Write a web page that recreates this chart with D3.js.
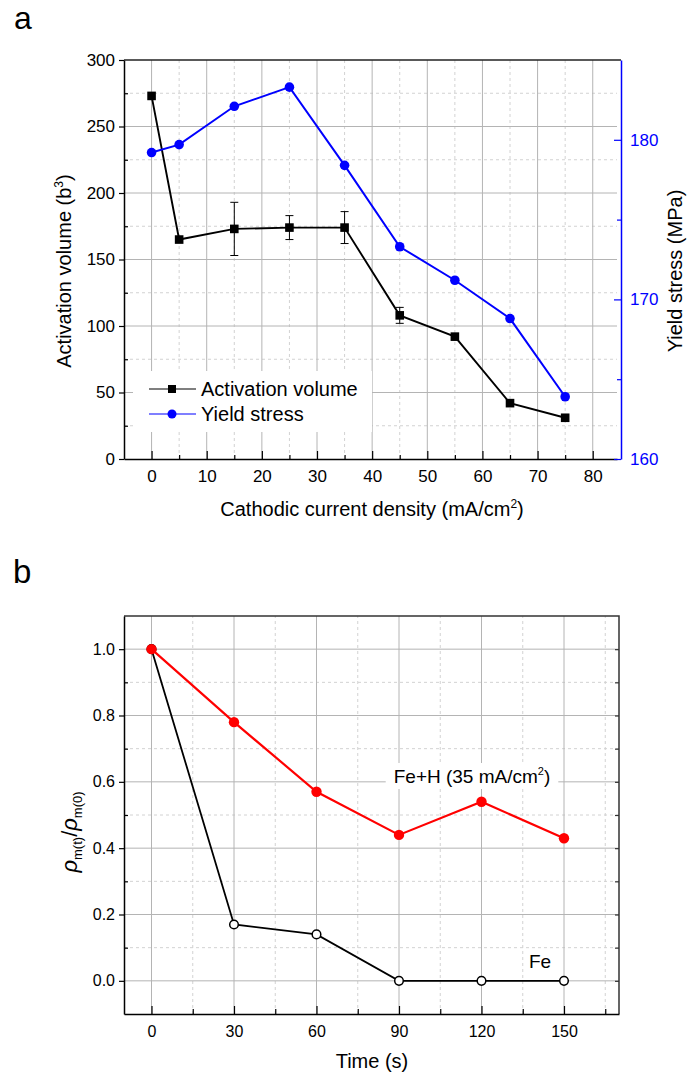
<!DOCTYPE html>
<html lang="en">
<head>
<meta charset="utf-8">
<title>activation volume and dislocation density</title>
<script src="https://cdn.jsdelivr.net/npm/d3@7"></script>
<style>
  body { margin: 0; background: #fff; }
  text { font-family: "Liberation Sans", Arial, sans-serif; }
</style>
</head>
<body>
<script>
// panel a data
var currentDensity = [0, 5, 15, 25, 35, 45, 55, 65, 75];
var activationVolume = [273, 165, 173, 174, 174, 108, 92, 42, 31];
var activationErr = [0, 0, 20, 9, 12, 6, 0, 0, 0];
var yieldStress = [179.2, 179.7, 182.1, 183.3, 178.4, 173.3, 171.2, 168.8, 163.9];

// panel b data
var timeS = [0, 30, 60, 90, 120, 150];
var ratioFeH = [1.0, 0.78, 0.57, 0.44, 0.54, 0.43];
var ratioFe = [1.0, 0.17, 0.14, 0, 0, 0];

// tick values
var xTicksA = [0, 10, 20, 30, 40, 50, 60, 70, 80];
var xMinorA = [5, 15, 25, 35, 45, 55, 65, 75];
var yTicksA = [0, 50, 100, 150, 200, 250, 300];
var yMinorA = [25, 75, 125, 175, 225, 275];
var yTicksRight = [160, 170, 180];
var yMinorRight = [165, 175];
var xTicksB = [0, 30, 60, 90, 120, 150];
var xMinorB = [15, 45, 75, 105, 135, 165];
var yTicksB = [0, 0.2, 0.4, 0.6, 0.8, 1.0];
var yMinorB = [0.1, 0.3, 0.5, 0.7, 0.9];

var w = 688, h = 1078;
var svg = d3.select("body").append("svg").attr("width", w).attr("height", h);

var majorGrid = "#b4b4b4", minorGrid = "#d2d2d2";

function drawGrid(g, x, y, xMaj, xMin, yMaj, yMin) {
  var x0 = x.range()[0], x1 = x.range()[1], y0 = y.range()[0], y1 = y.range()[1];
  g.selectAll(".vmin").data(xMin).enter().append("line")
    .attr("x1", x).attr("x2", x).attr("y1", y0).attr("y2", y1)
    .attr("stroke", minorGrid).attr("stroke-dasharray", "3,3");
  g.selectAll(".hmin").data(yMin).enter().append("line")
    .attr("y1", y).attr("y2", y).attr("x1", x0).attr("x2", x1)
    .attr("stroke", minorGrid).attr("stroke-dasharray", "3,3");
  g.selectAll(".vmaj").data(xMaj).enter().append("line")
    .attr("x1", x).attr("x2", x).attr("y1", y0).attr("y2", y1)
    .attr("stroke", majorGrid);
  g.selectAll(".hmaj").data(yMaj).enter().append("line")
    .attr("y1", y).attr("y2", y).attr("x1", x0).attr("x2", x1)
    .attr("stroke", majorGrid);
}

function styleAxis(g, color, size) {
  g.selectAll("path").attr("stroke", color).attr("stroke-width", 1.5);
  g.selectAll("line").attr("stroke", color).attr("stroke-width", 1.2);
  g.selectAll("text").attr("fill", color).style("font-size", size + "px")
    .style("font-family", "'Liberation Sans', Arial, sans-serif");
}

// ---------- panel a ----------
var xA = d3.scaleLinear().domain([-5, 84.4]).range([124, 617]);
var yA = d3.scaleLinear().domain([0, 300]).range([459, 60]);
var yR = d3.scaleLinear().domain([160, 185]).range([459, 60]);

svg.append("text").attr("x", 14).attr("y", 29).text("a").style("font-size", "32px");

var gA = svg.append("g");
drawGrid(gA, xA, yA, xTicksA, xMinorA, [50, 100, 150, 200, 250], yMinorA);

// top border
gA.append("line").attr("x1", 124).attr("x2", 621).attr("y1", 60).attr("y2", 60)
  .attr("stroke", "#222").attr("stroke-width", 1.5);

var axL = svg.append("g").attr("transform", "translate(124,0)")
  .call(d3.axisLeft(yA).tickValues(yTicksA).tickSize(5).tickSizeOuter(0).tickPadding(4));
styleAxis(axL, "#000", 17);
svg.append("g").attr("transform", "translate(124,0)")
  .call(d3.axisLeft(yA).tickValues(yMinorA).tickSize(-4).tickFormat(""))
  .call(function(g) { g.select("path").remove(); styleAxis(g, "#000", 17); });

var axB = svg.append("g").attr("transform", "translate(0,459)")
  .call(d3.axisBottom(xA).tickValues(xTicksA).tickSize(-8).tickSizeOuter(0).tickPadding(11));
styleAxis(axB, "#000", 17);
svg.append("g").attr("transform", "translate(0,459)")
  .call(d3.axisBottom(xA).tickValues(xMinorA).tickSize(-4).tickFormat(""))
  .call(function(g) { g.select("path").remove(); styleAxis(g, "#000", 17); });

var axR = svg.append("g").attr("transform", "translate(621,0)")
  .call(d3.axisRight(yR).tickValues(yTicksRight).tickSize(-7).tickSizeOuter(0).tickPadding(9));
styleAxis(axR, "#0000ff", 17);
svg.append("g").attr("transform", "translate(621,0)")
  .call(d3.axisRight(yR).tickValues(yMinorRight).tickSize(-4).tickFormat(""))
  .call(function(g) { g.select("path").remove(); styleAxis(g, "#0000ff", 17); });

// legend box
gA.append("rect").attr("x", 133).attr("y", 371).attr("width", 239).attr("height", 61).attr("fill", "#fff");

// error bars
var errData = currentDensity.map(function(x, i) { return {x: x, y: activationVolume[i], e: activationErr[i]}; })
  .filter(function(d) { return d.e > 0; });
var eb = gA.selectAll(".err").data(errData).enter().append("g").attr("stroke", "#000").attr("stroke-width", 1);
eb.append("line").attr("x1", function(d) { return xA(d.x); }).attr("x2", function(d) { return xA(d.x); })
  .attr("y1", function(d) { return yA(d.y - d.e); }).attr("y2", function(d) { return yA(d.y + d.e); });
eb.append("line").attr("x1", function(d) { return xA(d.x) - 4; }).attr("x2", function(d) { return xA(d.x) + 4; })
  .attr("y1", function(d) { return yA(d.y - d.e); }).attr("y2", function(d) { return yA(d.y - d.e); });
eb.append("line").attr("x1", function(d) { return xA(d.x) - 4; }).attr("x2", function(d) { return xA(d.x) + 4; })
  .attr("y1", function(d) { return yA(d.y + d.e); }).attr("y2", function(d) { return yA(d.y + d.e); });

var lineAV = d3.line().x(function(d, i) { return xA(currentDensity[i]); }).y(function(d) { return yA(d); });
var lineYS = d3.line().x(function(d, i) { return xA(currentDensity[i]); }).y(function(d) { return yR(d); });

gA.append("path").attr("d", lineAV(activationVolume)).attr("fill", "none").attr("stroke", "#000").attr("stroke-width", 1.9);
gA.append("path").attr("d", lineYS(yieldStress)).attr("fill", "none").attr("stroke", "#0000ff").attr("stroke-width", 2);

gA.selectAll(".sq").data(activationVolume).enter().append("rect")
  .attr("x", function(d, i) { return xA(currentDensity[i]) - 4.3; })
  .attr("y", function(d) { return yA(d) - 4.3; })
  .attr("width", 8.6).attr("height", 8.6).attr("fill", "#000");
gA.selectAll(".ci").data(yieldStress).enter().append("circle")
  .attr("cx", function(d, i) { return xA(currentDensity[i]); })
  .attr("cy", function(d) { return yR(d); })
  .attr("r", 4.8).attr("fill", "#0000ff");

// legend entries
gA.append("line").attr("x1", 149).attr("x2", 196).attr("y1", 389).attr("y2", 389).attr("stroke", "#000").attr("stroke-width", 1.2);
gA.append("rect").attr("x", 168).attr("y", 385).attr("width", 8).attr("height", 8).attr("fill", "#000");
gA.append("text").attr("x", 201).attr("y", 396).text("Activation volume").style("font-size", "20px");
gA.append("line").attr("x1", 149).attr("x2", 196).attr("y1", 414).attr("y2", 414).attr("stroke", "#0000ff").attr("stroke-width", 1.2);
gA.append("circle").attr("cx", 172).attr("cy", 414).attr("r", 4.5).attr("fill", "#0000ff");
gA.append("text").attr("x", 201).attr("y", 421).text("Yield stress").style("font-size", "20px");

// axis titles
var tl = svg.append("text").attr("transform", "translate(71,271) rotate(-90)")
  .attr("text-anchor", "middle").style("font-size", "20px");
tl.append("tspan").text("Activation volume (b");
tl.append("tspan").attr("dy", -8).style("font-size", "12px").text("3");
tl.append("tspan").attr("dy", 8).text(")");

svg.append("text").attr("transform", "translate(682,271) rotate(-90)")
  .attr("text-anchor", "middle").style("font-size", "20px").text("Yield stress (MPa)");

var tb = svg.append("text").attr("x", 372).attr("y", 516).attr("text-anchor", "middle").style("font-size", "20px");
tb.append("tspan").text("Cathodic current density (mA/cm");
tb.append("tspan").attr("dy", -8).style("font-size", "12px").text("2");
tb.append("tspan").attr("dy", 8).text(")");

// ---------- panel b ----------
var xB = d3.scaleLinear().domain([-10, 170]).range([124, 619]);
var yB = d3.scaleLinear().domain([-0.1, 1.1]).range([1014, 616]);

svg.append("text").attr("x", 13).attr("y", 583).text("b").style("font-size", "33px");

var gB = svg.append("g");
drawGrid(gB, xB, yB, xTicksB, xMinorB, yTicksB, yMinorB);

// top and right border
gB.append("path").attr("d", "M124,616H619V1014").attr("fill", "none").attr("stroke", "#333").attr("stroke-width", 1.5);
svg.append("g").attr("transform", "translate(619,0)")
  .call(d3.axisRight(yB).tickValues(yTicksB.concat(yMinorB)).tickSize(-4).tickFormat(""))
  .call(function(g) { g.select("path").remove(); styleAxis(g, "#333", 16); });

var axLB = svg.append("g").attr("transform", "translate(124,0)")
  .call(d3.axisLeft(yB).tickValues(yTicksB).tickSize(5).tickSizeOuter(0).tickPadding(4).tickFormat(d3.format(".1f")));
styleAxis(axLB, "#000", 16);
svg.append("g").attr("transform", "translate(124,0)")
  .call(d3.axisLeft(yB).tickValues(yMinorB).tickSize(-4).tickFormat(""))
  .call(function(g) { g.select("path").remove(); styleAxis(g, "#000", 16); });

var axBB = svg.append("g").attr("transform", "translate(0,1014)")
  .call(d3.axisBottom(xB).tickValues(xTicksB).tickSize(-8).tickSizeOuter(0).tickPadding(12));
styleAxis(axBB, "#000", 16);
svg.append("g").attr("transform", "translate(0,1014)")
  .call(d3.axisBottom(xB).tickValues(xMinorB).tickSize(-5).tickFormat(""))
  .call(function(g) { g.select("path").remove(); styleAxis(g, "#000", 16); });

// annotation background
var ann = gB.append("text").attr("x", 472).attr("y", 783).attr("text-anchor", "middle").style("font-size", "19px");
ann.append("tspan").text("Fe+H (35 mA/cm");
ann.append("tspan").attr("dy", -8).style("font-size", "11px").text("2");
ann.append("tspan").attr("dy", 8).text(")");
var bb = ann.node().getBBox();
gB.insert("rect", "text").attr("x", bb.x - 8).attr("y", bb.y - 2).attr("width", bb.width + 16).attr("height", bb.height + 4).attr("fill", "#fff");

var lineB = function(arr) {
  return d3.line().x(function(d, i) { return xB(timeS[i]); }).y(function(d) { return yB(d); })(arr);
};
gB.append("path").attr("d", lineB(ratioFe)).attr("fill", "none").attr("stroke", "#000").attr("stroke-width", 1.8);
gB.selectAll(".fe").data(ratioFe).enter().append("circle")
  .attr("cx", function(d, i) { return xB(timeS[i]); })
  .attr("cy", function(d) { return yB(d); })
  .attr("r", 4.3).attr("fill", "#fff").attr("stroke", "#000").attr("stroke-width", 1.5);

gB.append("path").attr("d", lineB(ratioFeH)).attr("fill", "none").attr("stroke", "#ff0000").attr("stroke-width", 2.2);
gB.selectAll(".feh").data(ratioFeH).enter().append("circle")
  .attr("cx", function(d, i) { return xB(timeS[i]); })
  .attr("cy", function(d) { return yB(d); })
  .attr("r", 5.2).attr("fill", "#ff0000");

gB.append("text").attr("x", 540).attr("y", 968).attr("text-anchor", "middle").style("font-size", "19px").text("Fe");

svg.append("text").attr("x", 372).attr("y", 1068).attr("text-anchor", "middle").style("font-size", "20px").text("Time (s)");

var ty = svg.append("text").attr("transform", "translate(77,832) rotate(-90)")
  .attr("text-anchor", "middle").style("font-size", "22px");
ty.append("tspan").style("font-style", "italic").text("\u03c1");
ty.append("tspan").attr("dy", 5).style("font-size", "13px").text("m(t)");
ty.append("tspan").attr("dy", -5).text("/");
ty.append("tspan").style("font-style", "italic").text("\u03c1");
ty.append("tspan").attr("dy", 5).style("font-size", "13px").text("m(0)");
</script>
</body>
</html>
